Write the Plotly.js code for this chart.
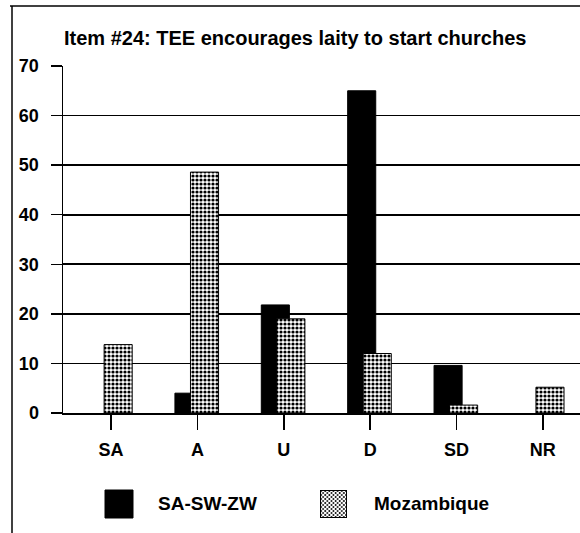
<!DOCTYPE html>
<html>
<head>
<meta charset="utf-8">
<script src="https://cdn.plot.ly/plotly-3.0.1.min.js"></script>
<style>html,body{margin:0;padding:0;background:#fff}</style>
</head>
<body>
<div id="chart" style="width:580px;height:533px"></div>
<script>
const categories = ["SA", "A", "U", "D", "SD", "NR"];
const seriesNames = ["SA-SW-ZW", "Mozambique"];
const saswzw = [0, 4, 21.8, 65, 9.6, 0];
const mozambique = [13.8, 48.6, 19, 12, 1.6, 5.2];
const yTicks = [0, 10, 20, 30, 40, 50, 60, 70];
const titleText = "Item #24: TEE encourages laity to start churches";

const W = 580, H = 533;
const M = {l: 63, r: 0, t: 66, b: 120};
const pw = W - M.l - M.r, ph = H - M.t - M.b;
const px = x => (x - M.l) / pw;
const py = y => (H - M.b - y) / ph;
const FONT = "'Liberation Sans', Arial, sans-serif";

const barW = 0.325;
const outline = vals => vals.map(v => (v > 0 ? 1 : 0));
const traces = [
  {
    type: "bar", name: seriesNames[0], x: categories, y: saswzw,
    width: barW, offset: -0.26,
    marker: {color: "#000", line: {color: "#000", width: outline(saswzw)}},
    showlegend: false, hoverinfo: "x+y"
  },
  {
    type: "bar", name: seriesNames[1], x: categories, y: mozambique,
    width: barW, offset: -0.08,
    marker: {color: "#fff", line: {color: "#000", width: outline(mozambique)},
      pattern: {shape: ".", size: 4, solidity: 0.5, fgcolor: "#000", bgcolor: "#fff"}},
    showlegend: false, hoverinfo: "x+y"
  }
];

const swatchSvg = "<svg xmlns='http://www.w3.org/2000/svg' width='26' height='28' viewBox='0 0 26 28'>" +
  "<defs><pattern id='p' width='4' height='4' patternUnits='userSpaceOnUse'>" +
  "<rect width='4' height='4' fill='white'/><circle cx='1' cy='1' r='0.9' fill='black'/><circle cx='3' cy='3' r='0.9' fill='black'/>" +
  "</pattern></defs><rect x='0.5' y='0.5' width='25' height='27' fill='url(#p)' stroke='black' stroke-width='1'/></svg>";

const layout = {
  width: W, height: H,
  margin: M,
  paper_bgcolor: "#fff", plot_bgcolor: "#fff",
  barmode: "overlay",
  showlegend: false,
  font: {family: FONT, color: "#000", size: 18},
  title: {
    text: "<b>" + titleText + "</b>",
    font: {family: FONT, size: 20, color: "#000"},
    x: px(64), xref: "paper", xanchor: "left",
    y: 1 - 38 / H, yref: "container", yanchor: "middle"
  },
  xaxis: {
    type: "category",
    range: [-0.556, 5.43],
    showline: true, linecolor: "#000", linewidth: 1.5,
    ticks: "outside", ticklen: 15, tickwidth: 1.5, tickcolor: "#000",
    tickfont: {family: FONT, size: 18, color: "#000", weight: "bold"},
    ticklabelstandoff: 5,
    showgrid: false, zeroline: false, fixedrange: true
  },
  yaxis: {
    range: [0, 70],
    tickvals: yTicks, ticktext: yTicks.map(String),
    showline: true, linecolor: "#000", linewidth: 1.5,
    ticks: "outside", ticklen: 11, tickwidth: 1.5, tickcolor: "#000",
    tickfont: {family: FONT, size: 18, color: "#000", weight: "bold"},
    ticklabelstandoff: 8,
    showgrid: true, gridcolor: "#000", gridwidth: 1.8,
    zeroline: false, fixedrange: true
  },
  shapes: [
    {type: "line", xref: "paper", yref: "paper", x0: px(10), x1: px(580), y0: py(6), y1: py(6), line: {color: "#000", width: 1.5}},
    {type: "line", xref: "paper", yref: "paper", x0: px(12), x1: px(12), y0: py(6), y1: py(533), line: {color: "#000", width: 1.5}},
    {type: "rect", xref: "paper", yref: "paper", x0: px(105), x1: px(133), y0: py(490), y1: py(518), fillcolor: "#000", line: {color: "#000", width: 1}}
  ],
  images: [
    {source: "data:image/svg+xml;charset=utf-8," + encodeURIComponent(swatchSvg),
     xref: "paper", yref: "paper", x: px(320), y: py(490), sizex: px(347) - px(320), sizey: py(490) - py(518),
     xanchor: "left", yanchor: "top", sizing: "stretch", layer: "above"}
  ],
  annotations: [
    {text: "<b>" + seriesNames[0] + "</b>", xref: "paper", yref: "paper", x: px(156), y: py(503), xanchor: "left", yanchor: "middle", showarrow: false, font: {family: FONT, size: 19, color: "#000"}},
    {text: "<b>" + seriesNames[1] + "</b>", xref: "paper", yref: "paper", x: px(372), y: py(503), xanchor: "left", yanchor: "middle", showarrow: false, font: {family: FONT, size: 19, color: "#000"}}
  ]
};

Plotly.newPlot("chart", traces, layout, {displayModeBar: false, staticPlot: true});
</script>
</body>
</html>
